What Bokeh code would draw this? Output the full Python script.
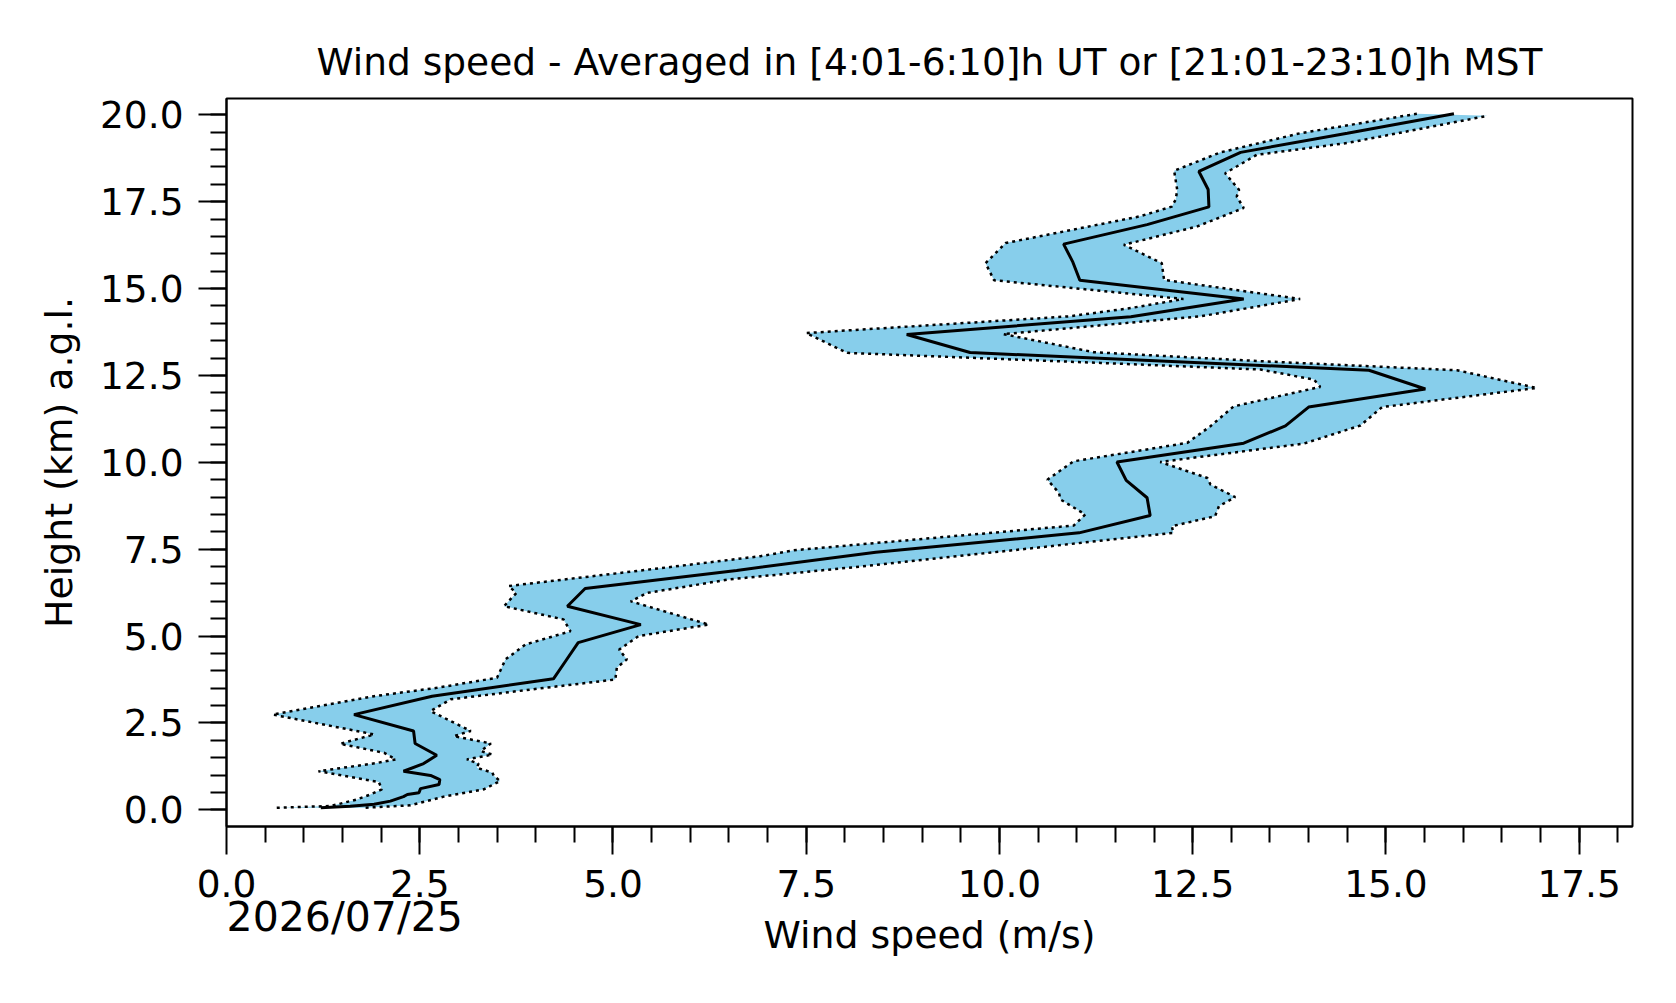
from bokeh.plotting import figure
from bokeh.models import Range1d, FixedTicker, PrintfTickFormatter, LinearAxis
from bokeh.embed import file_html
from bokeh.resources import INLINE

# Mean wind speed profile (m/s) vs height (km a.g.l.)
mean_h = [0.06, 0.10, 0.16, 0.25, 0.38, 0.44, 0.49, 0.61, 0.73, 0.87,
          0.99, 1.11, 1.33, 1.57, 1.91, 2.27, 2.74, 3.27, 3.77, 4.29,
          4.81, 5.33, 5.86, 6.37, 6.89, 7.41, 7.97, 8.47, 8.98, 9.48,
          10.01, 10.55, 11.05, 11.59, 12.11, 12.65, 13.16, 13.68, 14.19, 14.70,
          15.24, 15.76, 16.28, 16.84, 17.35, 17.85, 18.37, 18.92, 19.47, 20.03]
mean_v = [1.22, 1.60, 1.91, 2.12, 2.29, 2.34, 2.49, 2.51, 2.75, 2.76,
          2.64, 2.29, 2.55, 2.72, 2.44, 2.42, 1.65, 2.66, 4.23, 4.39,
          4.55, 5.36, 4.41, 4.64, 6.60, 8.40, 11.03, 11.95, 11.91, 11.64,
          11.52, 13.16, 13.70, 14.00, 15.51, 14.78, 9.62, 8.80, 11.70, 13.16,
          11.04, 10.95, 10.83, 11.91, 12.71, 12.70, 12.58, 13.12, 14.50, 15.88]

# Lower edge of the spread band
lo_h = [0.06, 0.11, 0.30, 0.44, 0.59, 0.80, 1.11, 1.35, 1.45, 1.64,
        1.90, 2.17, 2.74, 3.27, 3.51, 3.80, 4.33, 4.76, 5.14, 5.48,
        5.86, 6.24, 6.44, 6.95, 7.30, 7.47, 8.18, 8.50, 8.93, 9.12,
        9.50, 10.03, 10.56, 11.04, 11.61, 12.17, 12.38, 12.67, 12.86, 13.15,
        13.72, 14.20, 14.44, 14.70, 15.24, 15.73, 16.31, 17.08, 17.36, 17.56,
        17.84, 18.39, 18.92, 19.47, 20.03]
lo_v = [0.65, 1.35, 1.69, 1.86, 2.01, 1.97, 1.19, 1.95, 2.19, 2.04,
        1.47, 1.91, 0.60, 1.91, 2.72, 3.50, 3.61, 3.87, 4.45, 4.36,
        3.59, 3.75, 3.65, 5.60, 6.91, 7.34, 10.96, 11.11, 10.79, 10.77,
        10.62, 10.96, 12.43, 12.73, 13.03, 14.15, 14.07, 13.38, 11.31, 8.03,
        7.50, 10.90, 11.70, 12.38, 9.93, 9.82, 10.08, 11.82, 12.23, 12.28,
        12.30, 12.26, 12.86, 13.89, 15.40]

# Upper edge of the spread band
hi_h = [0.06, 0.13, 0.38, 0.59, 0.83, 0.97, 1.07, 1.21, 1.33, 1.45,
        1.59, 1.69, 1.91, 2.12, 2.27, 2.84, 3.18, 3.46, 3.75, 4.09,
        4.33, 4.61, 5.00, 5.33, 6.00, 6.24, 6.63, 7.00, 7.50, 7.97,
        8.16, 8.45, 8.74, 9.00, 9.36, 9.55, 10.01, 10.54, 11.06, 11.59,
        12.14, 12.65, 12.91, 13.17, 13.69, 14.20, 14.70, 15.25, 15.73, 16.26,
        16.79, 17.32, 17.65, 17.84, 18.32, 18.85, 19.19, 19.97]
hi_v = [1.80, 2.38, 2.81, 3.33, 3.54, 3.46, 3.44, 3.24, 3.26, 3.11,
        3.44, 3.29, 3.42, 2.94, 3.16, 2.64, 2.90, 3.93, 5.03, 5.05,
        5.18, 5.08, 5.33, 6.24, 5.23, 5.44, 6.50, 8.20, 10.30, 12.25,
        12.23, 12.79, 12.84, 13.05, 12.73, 12.69, 12.08, 13.94, 14.67, 14.95,
        16.95, 15.92, 13.38, 11.22, 10.05, 12.60, 13.89, 12.13, 12.10, 11.61,
        12.56, 13.16, 13.07, 13.10, 12.92, 13.33, 14.50, 16.31]

x_major = [0.0, 2.5, 5.0, 7.5, 10.0, 12.5, 15.0, 17.5]
y_major = [0.0, 2.5, 5.0, 7.5, 10.0, 12.5, 15.0, 17.5, 20.0]

title_text = "Wind speed - Averaged in [4:01-6:10]h UT or [21:01-23:10]h MST"
date_text = "2026/07/25"
FONT = "DejaVu Sans"

p = figure(width=1660, height=985, output_backend="svg", toolbar_location=None,
           x_range=Range1d(0, 18.19), y_range=Range1d(-0.48, 20.47),
           min_border_left=226, min_border_right=28, min_border_top=98,
           min_border_bottom=159, title=title_text)

p.background_fill_color = "white"
p.border_fill_color = "white"
p.outline_line_color = "black"
p.outline_line_width = 2
p.xgrid.visible = False
p.ygrid.visible = False

p.title.align = "center"
p.title.text_font = FONT
p.title.text_font_size = "37.5px"
p.title.text_font_style = "normal"
p.title.text_color = "black"
p.title.standoff = 29

x_minor = [i * 0.5 for i in range(1, 37)]
y_minor = [i * 0.5 for i in range(0, 41)]

for ax, major, minor in ((p.xaxis[0], x_major, x_minor), (p.yaxis[0], y_major, y_minor)):
    ax.ticker = FixedTicker(ticks=major, minor_ticks=minor)
    ax.formatter = PrintfTickFormatter(format="%.1f")
    ax.major_tick_out = 28
    ax.major_tick_in = 0
    ax.minor_tick_out = 16
    ax.minor_tick_in = 0
    ax.major_tick_line_width = 2
    ax.minor_tick_line_width = 2
    ax.axis_line_width = 2
    ax.major_tick_line_color = "black"
    ax.minor_tick_line_color = "black"
    ax.axis_line_color = "black"
    ax.major_label_text_font = FONT
    ax.major_label_text_font_size = "37.5px"
    ax.major_label_text_color = "black"
    ax.axis_label_text_font = FONT
    ax.axis_label_text_font_size = "37.8px"
    ax.axis_label_text_font_style = "normal"
    ax.axis_label_text_color = "black"

p.xaxis[0].axis_label = "Wind speed (m/s)"
p.yaxis[0].axis_label = "Height (km) a.g.l."
p.xaxis[0].major_label_standoff = 15
p.yaxis[0].major_label_standoff = 15
p.xaxis[0].axis_label_standoff = 13
p.yaxis[0].axis_label_standoff = 16

# spread band (polygon built from the two edges)
band_x = lo_v + hi_v[::-1]
band_y = lo_h + hi_h[::-1]
p.patch(band_x, band_y, fill_color="#87CEEB", line_color=None)
p.line(lo_v, lo_h, line_color="black", line_width=2.5, line_dash="3 4")
p.line(hi_v, hi_h, line_color="black", line_width=2.5, line_dash="3 4")
p.line(mean_v, mean_h, line_color="black", line_width=3)

# date text under the x axis, carried by a bare secondary axis
date_pos = 1.53
date_axis = LinearAxis(ticker=FixedTicker(ticks=[date_pos], minor_ticks=[]),
                       major_label_overrides={date_pos: date_text})
date_axis.axis_line_color = None
date_axis.major_tick_line_color = None
date_axis.minor_tick_line_color = None
date_axis.major_tick_out = 0
date_axis.major_tick_in = 0
date_axis.major_label_text_font = FONT
date_axis.major_label_text_font_size = "41px"
date_axis.major_label_text_color = "black"
date_axis.major_label_standoff = -67
p.add_layout(date_axis, "below")

open("out.html", "w").write(file_html(p, INLINE))
